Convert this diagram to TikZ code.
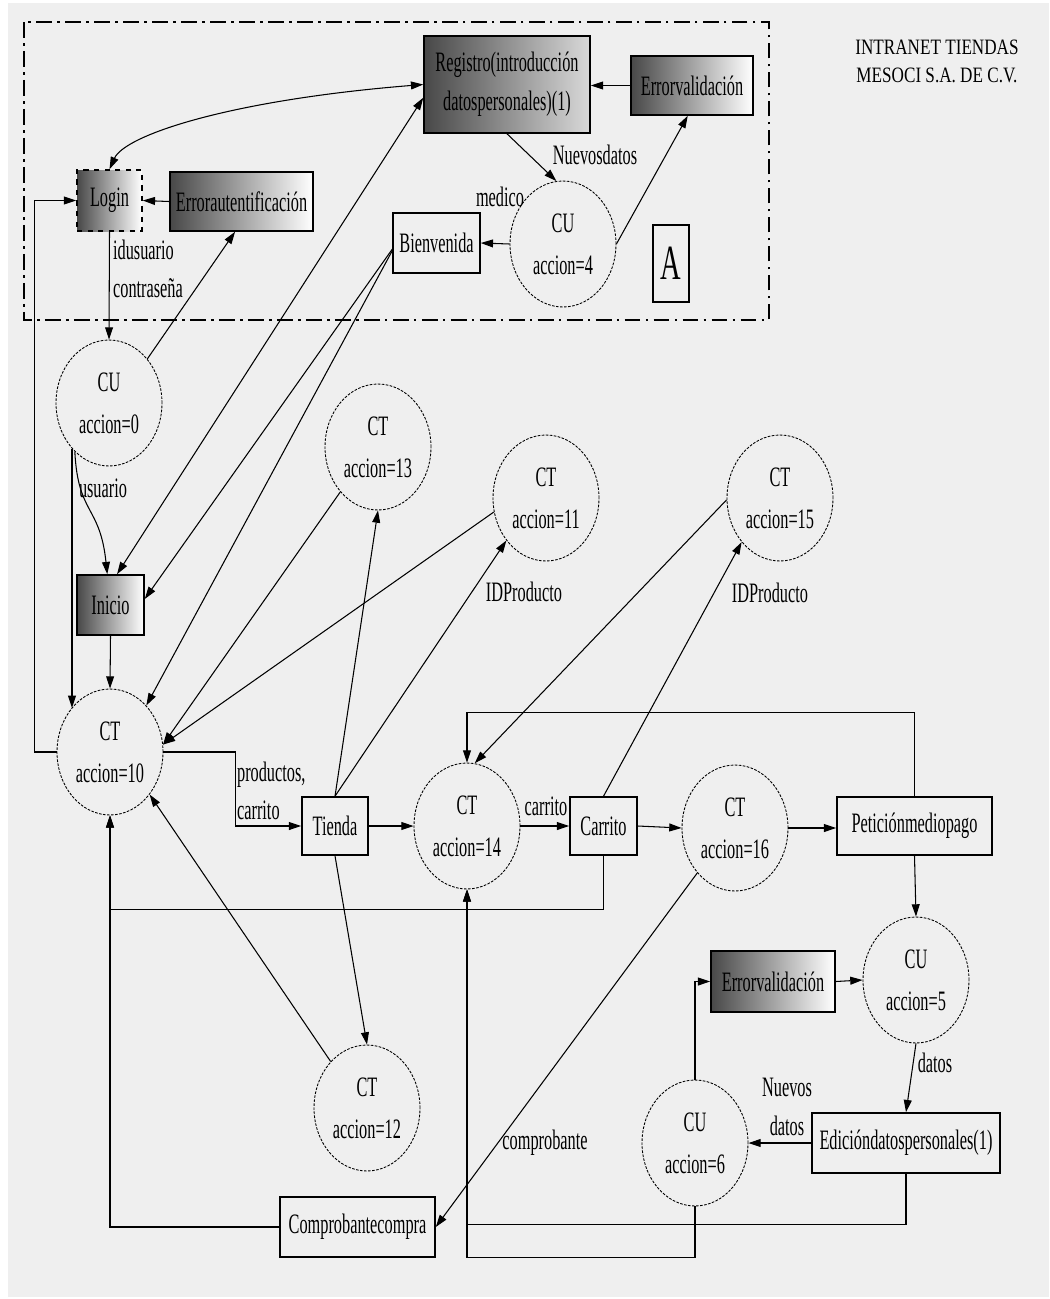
\documentclass[tikz,border=0pt]{standalone}
\usepackage{fontspec}
\setmainfont{Liberation Serif}[FakeStretch=0.58]
\newfontfamily\titlefont{Liberation Serif}[FakeStretch=0.78]
\usepackage{tikz}
\usetikzlibrary{positioning,shapes.geometric,arrows.meta}
\definecolor{fondo}{HTML}{EFEFEF}
\definecolor{oscuro}{HTML}{484848}

\begin{document}
\begin{tikzpicture}[x=0.02cm, y=-0.02cm,
    font=\fontsize{16}{22}\selectfont,
    >={Triangle[length=7pt,width=4.5pt]},
    linea/.style={line width=0.6pt},
    caja/.style={draw, line width=0.9pt, inner sep=0pt, align=center},
    error/.style={caja, left color=oscuro, right color=white},
    ctl/.style={ellipse, draw, line width=0.5pt, dash pattern=on 1.5pt off 0.8pt,
        minimum width=2.12cm, minimum height=2.52cm, inner sep=0pt, align=center,
        font=\fontsize{16}{24}\selectfont},
    etiq/.style={inner sep=1pt, align=left}]

    \useasboundingbox (0,0) rectangle (1049,1299);
    \fill[white] (0,0) rectangle (1049,1299);
    \fill[fondo] (8,3) rectangle (1049,1297);

    % zona A
    \draw[line width=1.6pt, dash pattern=on 9pt off 3pt on 1.5pt off 3pt] (24,22) rectangle (769,320);

    \node[error, right color=gray!30, minimum width=3.32cm, minimum height=1.94cm] (reg) at (507,84.5) {Registro(introducción\\datospersonales)(1)};
    \node[error, minimum width=2.44cm, minimum height=1.18cm] (errv1) at (692,85.5) {Errorvalidación};
    \node[error, dashed, minimum width=1.3cm, minimum height=1.22cm] (login) at (109.5,200.5) {Login};
    \node[error, minimum width=2.86cm, minimum height=1.18cm] (erra) at (241.5,201.5) {Errorautentificación};
    \node[caja, minimum width=1.74cm, minimum height=1.2cm] (bienv) at (436.5,243) {Bienvenida};
    \node[ctl] (cu4) at (563,244) {CU\\accion=4};
    \node[caja, minimum width=0.72cm, minimum height=1.54cm, font=\fontsize{28}{30}\selectfont] (abox) at (671,263.5) {A};
    \node[font=\titlefont\fontsize{12.5}{16}\selectfont, align=center] (titulo) at (937,61) {INTRANET TIENDAS\\MESOCI S.A. DE C.V.};

    \node[ctl] (cu0) at (109,403) {CU\\accion=0};
    \node[ctl] (ct13) at (378,447) {CT\\accion=13};
    \node[ctl] (ct11) at (546,498) {CT\\accion=11};
    \node[ctl] (ct15) at (780,498) {CT\\accion=15};
    \node[error, minimum width=1.34cm, minimum height=1.2cm] (inicio) at (110.5,605) {Inicio};
    \node[ctl] (ct10) at (110,752) {CT\\accion=10};
    \node[caja, minimum width=1.32cm, minimum height=1.16cm] (tienda) at (335,826) {Tienda};
    \node[ctl] (ct14) at (467,826) {CT\\accion=14};
    \node[caja, minimum width=1.34cm, minimum height=1.16cm] (carrito) at (603.5,826) {Carrito};
    \node[ctl] (ct16) at (735,828) {CT\\accion=16};
    \node[caja, minimum width=3.1cm, minimum height=1.16cm] (pet) at (914.5,826) {Peticiónmediopago};
    \node[ctl] (cu5) at (916,980) {CU\\accion=5};
    \node[error, minimum width=2.48cm, minimum height=1.22cm] (errv2) at (773,981.5) {Errorvalidación};
    \node[ctl] (cu6) at (695,1143) {CU\\accion=6};
    \node[caja, minimum width=3.76cm, minimum height=1.2cm] (edic) at (906,1143) {Edicióndatospersonales(1)};
    \node[ctl] (ct12) at (367,1108) {CT\\accion=12};
    \node[caja, minimum width=3.1cm, minimum height=1.2cm] (comp) at (357.5,1227) {Comprobantecompra};

    % etiquetas
    \node[etiq, anchor=west] (lidus) at (111,269) {idusuario\\contraseña};
    \node[etiq] (lnuevos) at (595,155) {Nuevosdatos};
    \node[etiq] (lmedico) at (500,197) {medico};
    \node[etiq] (lusuario) at (103,488) {usuario};
    \node[etiq] (lid1) at (524,592) {IDProducto};
    \node[etiq] (lid2) at (770,593) {IDProducto};
    \node[etiq, anchor=west] (lprod) at (235,791) {productos,\\carrito};
    \node[etiq] (lcarr) at (546,806) {carrito};
    \node[etiq] (ldatos) at (935,1063) {datos};
    \node[etiq, align=center] (lnuevos2) at (787,1107) {Nuevos\\datos};
    \node[etiq] (lcomp) at (545,1143) {comprobante};

    % flujo
    \draw[<->, linea] (login.north) .. controls (125,135) and (230,100) .. (reg.west);
    \draw[<->, linea] (reg.189) -- (inicio.78);
    \draw[->, linea] (errv1.west) -- (reg.east |- errv1.west);
    \draw[->, linea] (reg.south) -- (cu4.96);
    \draw[->, linea] (cu4.east) -- (errv1.262);
    \draw[->, linea] (cu4.west) -- (bienv.east);
    \draw[->, linea] (erra.west) -- (login.east);
    \draw[->, linea] (login.south) -- (cu0.north);
    \draw[->, linea] (cu0.49) -- (erra.258);
    \draw[->, linea] (cu0.235) .. controls (78,515) and (100,505) .. (inicio.96);
    \draw[->, linea] (cu0.231) -- (cu0.231 |- ct10.131);
    \draw[->, linea] (bienv.188) -- (inicio.10);
    \draw[->, linea] (bienv.190) -- (ct10.52);
    \draw[->, linea] (inicio.south) -- (ct10.north);
    \draw[->, linea] (ct10.west) -- ++(-22,0) |- (login.west);
    \draw[->, linea] (ct13.230) -- (ct10.8);
    \draw[->, linea] (ct11.195) -- (ct10.8);
    \draw[->, linea] (ct10.east) -- ++(72,0) |- (tienda.west);
    \draw[->, linea] (tienda.north) -- (ct13.south);
    \draw[->, linea] (tienda.north) -- (ct11.227);
    \draw[->, linea] (tienda.south) -- (ct12.north);
    \draw[->, linea] (ct12.128) -- (ct10.313);
    \draw[->, linea] (tienda.east) -- (ct14.west);
    \draw[->, linea] (ct14.east) -- (carrito.west);
    \draw[->, linea] (carrito.north) -- (ct15.229);
    \draw[->, linea] (ct15.182) -- (ct14.83);
    \draw[->, linea] (carrito.east) -- (ct16.west);
    \draw[->, linea] (carrito.south) -- ++(0,54) -| (ct10.south);
    \draw[->, linea] (ct16.east) -- (pet.west |- ct16.east);
    \draw[->, linea] (pet.north) -- ++(0,-84) -| (ct14.north);
    \draw[->, linea] (pet.south) -- (cu5.north);
    \draw[->, linea] (errv2.east) -- (cu5.west);
    \draw[->, linea] (cu5.south) -- (edic.north);
    \draw[->, linea] (edic.west) -- (cu6.east);
    \draw[->, linea] (cu6.north) |- (errv2.west);
    \draw[->, linea] (edic.south) -- ++(0,51) -| (ct14.south);
    \draw[->, linea] (cu6.south) -- ++(0,51) -| (ct14.south);
    \draw[->, linea] (ct16.230) -- (comp.east);
    \draw[->, linea] (comp.west) -| (ct10.south);
\end{tikzpicture}
\end{document}
